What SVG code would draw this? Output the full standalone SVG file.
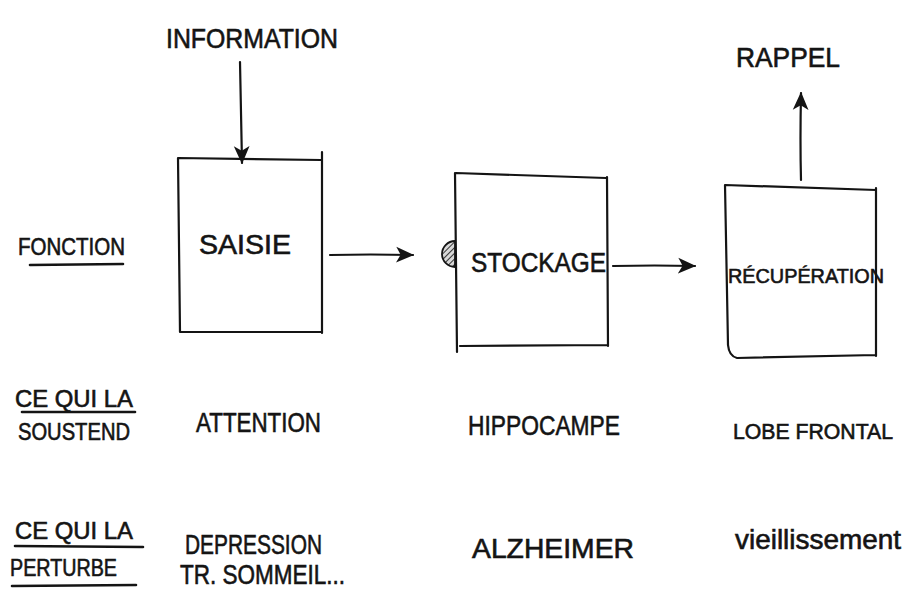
<svg xmlns="http://www.w3.org/2000/svg" width="909" height="590" viewBox="0 0 909 590">
  <style>
    .ink { fill: none; stroke: #141414; stroke-width: 2.2; stroke-linecap: round; stroke-linejoin: round; }
    .rule { fill: none; stroke: #141414; stroke-width: 2.6; stroke-linecap: round; }
    .hand { font-family: "Liberation Sans", "DejaVu Sans", sans-serif; fill: #141414; stroke: #141414; stroke-width: 0.6; }
    .lbl { font-size: 27px; }
    .sm { font-size: 23px; }
  </style>
  <defs>
    <marker id="headBig" viewBox="0 0 16 16" refX="15" refY="8" markerWidth="18" markerHeight="18" markerUnits="userSpaceOnUse" orient="auto">
      <path d="M0,1 L16,8 L0,15 L4,8 Z" fill="#141414"/>
    </marker>
    <pattern id="hatch" width="4" height="4" patternUnits="userSpaceOnUse" patternTransform="rotate(45)">
      <rect width="4" height="4" fill="#d8d8d8"/>
      <line x1="0" y1="0" x2="0" y2="4" stroke="#222" stroke-width="1.8"/>
    </pattern>
  </defs>

  <!-- row labels -->
  <g id="row-fonction">
    <text class="hand sm" x="18" y="255" textLength="107" lengthAdjust="spacingAndGlyphs">FONCTION</text>
    <path class="rule" d="M30,265 L123,264"/>
  </g>
  <g id="row-soustend">
    <text class="hand sm" x="15" y="407" textLength="118" lengthAdjust="spacingAndGlyphs">CE QUI LA</text>
    <path class="rule" d="M22,412 L135,412"/>
    <text class="hand sm" x="18" y="440" textLength="112" lengthAdjust="spacingAndGlyphs">SOUSTEND</text>
  </g>
  <g id="row-perturbe">
    <text class="hand sm" x="15" y="539" textLength="118" lengthAdjust="spacingAndGlyphs">CE QUI LA</text>
    <path class="rule" d="M15,546 L143,547"/>
    <text class="hand sm" x="10" y="576" textLength="107" lengthAdjust="spacingAndGlyphs">PERTURBE</text>
    <path class="rule" d="M12,586 L136,585"/>
  </g>

  <!-- input / output words -->
  <g id="information">
    <text class="hand lbl" x="166" y="48" textLength="172" lengthAdjust="spacingAndGlyphs">INFORMATION</text>
  </g>
  <g id="rappel">
    <text class="hand lbl" x="736" y="67" textLength="104" lengthAdjust="spacingAndGlyphs">RAPPEL</text>
  </g>

  <!-- process boxes -->
  <g id="saisie">
    <path class="ink" d="M178,158 L321,160 M322,152 L322,333 M322,332 L180,332 M180,332 L178,158"/>
    <text class="hand lbl" x="199" y="254" textLength="92" lengthAdjust="spacingAndGlyphs">SAISIE</text>
  </g>
  <g id="stockage">
    <path class="ink" d="M456,173 L606,178 M607,177 L608,346 M608,345 L460,346 M457,352 L455,173"/>
    <path d="M455,241 A13,13 0 0 0 455,267 Z" fill="url(#hatch)" stroke="#141414" stroke-width="1.8"/>
    <text class="hand lbl" x="471" y="272" textLength="135" lengthAdjust="spacingAndGlyphs">STOCKAGE</text>
  </g>
  <g id="recuperation">
    <path class="ink" d="M725,185 L876,190 M876,188 L876,356 M876,355 L737,358 Q729,356 728,345 L725,185"/>
    <text class="hand" font-size="20" x="728" y="283" textLength="156" lengthAdjust="spacingAndGlyphs">RÉCUPÉRATION</text>
  </g>

  <!-- supporting structures -->
  <g id="attention">
    <text class="hand lbl" x="196" y="432" textLength="125" lengthAdjust="spacingAndGlyphs">ATTENTION</text>
  </g>
  <g id="hippocampe">
    <text class="hand lbl" x="468" y="435" textLength="152" lengthAdjust="spacingAndGlyphs">HIPPOCAMPE</text>
  </g>
  <g id="lobe-frontal">
    <text class="hand" font-size="21.5" x="733" y="439" textLength="160" lengthAdjust="spacingAndGlyphs">LOBE FRONTAL</text>
  </g>

  <!-- disturbances -->
  <g id="depression">
    <text class="hand lbl" x="185" y="554" textLength="137" lengthAdjust="spacingAndGlyphs">DEPRESSION</text>
    <text class="hand lbl" x="180" y="584" textLength="165" lengthAdjust="spacingAndGlyphs">TR. SOMMEIL...</text>
  </g>
  <g id="alzheimer">
    <text class="hand lbl" x="472" y="558" textLength="162" lengthAdjust="spacingAndGlyphs">ALZHEIMER</text>
  </g>
  <g id="vieillissement">
    <text class="hand lbl" x="735" y="549" textLength="166" lengthAdjust="spacingAndGlyphs">vieillissement</text>
  </g>

  <!-- connectors -->
  <g id="connectors">
    <path class="ink" d="M240,62 Q241,110 242,163" marker-end="url(#headBig)"/>
    <path class="ink" d="M330,255 Q370,254 413,255" marker-end="url(#headBig)"/>
    <path class="ink" d="M613,266 Q655,265 695,266" marker-end="url(#headBig)"/>
    <path class="ink" d="M801,180 Q800,140 801,93" marker-end="url(#headBig)"/>
  </g>
</svg>
